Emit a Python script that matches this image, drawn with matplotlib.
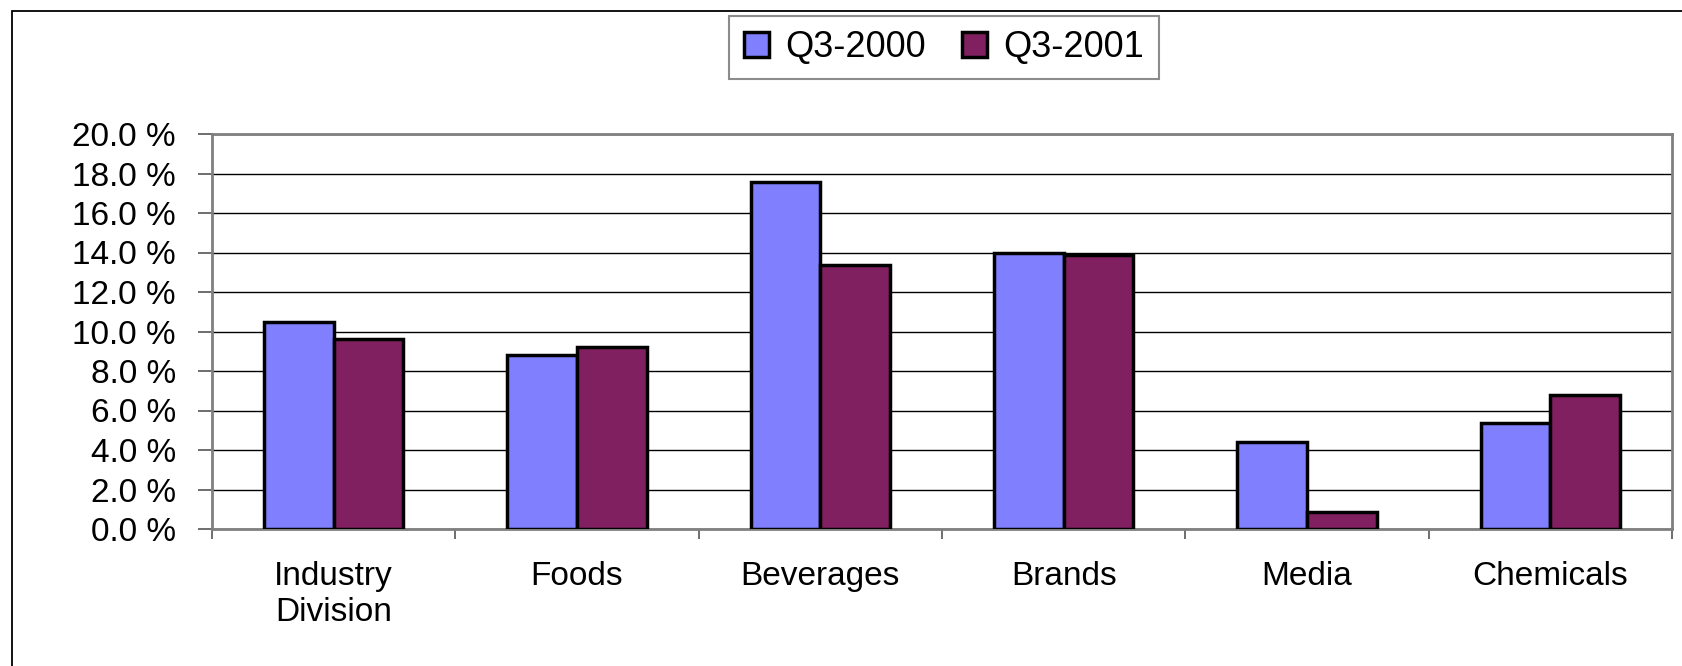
#!/usr/bin/env python3
import numpy as np
import matplotlib
matplotlib.use("Agg")
import matplotlib.pyplot as plt
from matplotlib.patches import Rectangle
from matplotlib.ticker import FuncFormatter, FixedLocator


CATEGORIES = ["Industry\nDivision", "Foods", "Beverages", "Brands", "Media", "Chemicals"]
Q3_2000 = [10.5, 8.8, 17.55, 14.0, 4.43, 5.37]
Q3_2001 = [9.6, 9.2, 13.35, 13.85, 0.88, 6.8]
SERIES_LABELS = ["Q3-2000", "Q3-2001"]
COLORS = ["#8080FF", "#802060"]


def main():
    plt.rcParams["font.family"] = ["Liberation Sans", "DejaVu Sans"]
    W, H = 1682, 666
    fig = plt.figure(figsize=(W / 100, H / 100), dpi=100)

    # plot area in pixel units
    left, right, top, bottom = 212, 1672, 134, 529
    ax = fig.add_axes([left / W, 1 - bottom / H, (right - left) / W, (bottom - top) / H])

    x = np.arange(len(CATEGORIES))
    w = 1 / 3.5
    for i, (vals, lab, col) in enumerate(zip([Q3_2000, Q3_2001], SERIES_LABELS, COLORS)):
        ax.bar(x + (i - 0.5) * w, vals, width=w, color=col, edgecolor="black",
               linewidth=2.5, label=lab, zorder=3)

    ax.set_xlim(-0.5, len(CATEGORIES) - 0.5)
    ax.set_ylim(0, 20)
    ax.set_yticks(np.arange(0, 20.1, 2))
    ax.yaxis.set_major_formatter(FuncFormatter(lambda v, _: f"{v:.1f} %"))
    ax.tick_params(axis="y", labelsize=24, length=10, width=1.2, color="#555555", pad=16)
    ax.grid(axis="y", color="black", linewidth=1.0, zorder=0)

    # category boundaries get the tick marks, centres get the labels
    ax.xaxis.set_major_locator(FixedLocator(np.arange(-0.5, len(CATEGORIES), 1)))
    ax.xaxis.set_minor_locator(FixedLocator(x))
    ax.set_xticklabels([], minor=False)
    ax.set_xticklabels(CATEGORIES, minor=True)
    ax.tick_params(axis="x", which="major", length=7.5, width=1.2, color="#555555")
    ax.tick_params(axis="x", which="minor", length=0, labelsize=24, pad=23)

    for s in ax.spines.values():
        s.set_color("#808080")
        s.set_linewidth(2.0)

    leg = fig.legend(loc="center", bbox_to_anchor=(944 / W, 1 - 47.5 / H), ncol=2,
                     fontsize=26, frameon=True, fancybox=False, edgecolor="#707070",
                     handlelength=0.7, handleheight=0.7, handletextpad=0.45,
                     columnspacing=1.0, borderpad=0.4, borderaxespad=0)
    leg.get_frame().set_linewidth(1.5)

    # outer chart border
    fig.patches.append(Rectangle((12 / W, -0.1), 1.2, 1 - 11 / H + 0.1,
                                 transform=fig.transFigure, fill=False,
                                 edgecolor="black", linewidth=1.3))

    fig.savefig("out.png", dpi=100)


if __name__ == '__main__':
    main()
